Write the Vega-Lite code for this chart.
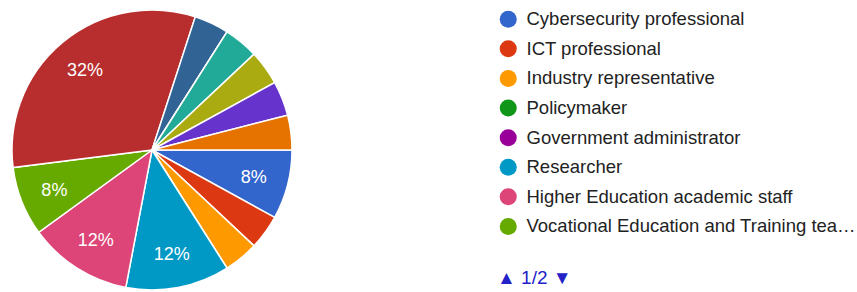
{
  "$schema": "https://vega.github.io/schema/vega-lite/v6.json",
  "width": 304,
  "height": 292,
  "autosize": {"type": "pad"},
  "padding": {"left": 0, "top": 4, "right": 0, "bottom": 0},
  "background": "white",
  "config": {"view": {"stroke": null}, "font": "Liberation Sans"},
  "title": {
    "text": "▲ 1/2 ▼",
    "orient": "bottom",
    "anchor": "start",
    "frame": "group",
    "dx": 497,
    "dy": -27,
    "offset": 0,
    "fontSize": 19,
    "fontWeight": "normal",
    "color": "#2222c8"
  },
  "data": {
    "values": [
      {"idx": 0, "role": "Cybersecurity professional", "n": 2, "label": "8%"},
      {"idx": 1, "role": "ICT professional", "n": 1, "label": ""},
      {"idx": 2, "role": "Industry representative", "n": 1, "label": ""},
      {"idx": 3, "role": "Policymaker", "n": 0, "label": ""},
      {"idx": 4, "role": "Government administrator", "n": 0, "label": ""},
      {"idx": 5, "role": "Researcher", "n": 3, "label": "12%"},
      {"idx": 6, "role": "Higher Education academic staff", "n": 3, "label": "12%"},
      {"idx": 7, "role": "Vocational Education and Training teacher", "n": 2, "label": "8%"},
      {"idx": 8, "role": "Student", "n": 8, "label": "32%"},
      {"idx": 9, "role": "Trainer", "n": 1, "label": ""},
      {"idx": 10, "role": "Consultant", "n": 0, "label": ""},
      {"idx": 11, "role": "Manager", "n": 1, "label": ""},
      {"idx": 12, "role": "Auditor", "n": 1, "label": ""},
      {"idx": 13, "role": "Entrepreneur", "n": 1, "label": ""},
      {"idx": 14, "role": "Other", "n": 1, "label": ""}
    ]
  },
  "encoding": {
    "theta": {"field": "n", "type": "quantitative", "stack": true, "scale": {"range": [1.5708, 7.854]}},
    "order": {"field": "idx", "type": "quantitative"}
  },
  "layer": [
    {
      "mark": {"type": "arc", "outerRadius": 140, "stroke": "white", "strokeWidth": 1.5},
      "encoding": {
        "color": {
          "field": "role",
          "type": "nominal",
          "scale": {
            "domain": ["Cybersecurity professional", "ICT professional", "Industry representative", "Policymaker", "Government administrator", "Researcher", "Higher Education academic staff", "Vocational Education and Training teacher", "Student", "Trainer", "Consultant", "Manager", "Auditor", "Entrepreneur", "Other"],
            "range": ["#3366cc", "#dc3912", "#ff9900", "#109618", "#990099", "#0099c6", "#dd4477", "#66aa00", "#b82e2e", "#316395", "#994499", "#22aa99", "#aaaa11", "#6633cc", "#e67300"]
          },
          "legend": {
            "orient": "none",
            "legendX": 499,
            "legendY": 6,
            "title": null,
            "values": ["Cybersecurity professional", "ICT professional", "Industry representative", "Policymaker", "Government administrator", "Researcher", "Higher Education academic staff", "Vocational Education and Training teacher"],
            "symbolType": "circle",
            "symbolSize": 290,
            "symbolStrokeWidth": 0,
            "labelFontSize": 18.5,
            "labelColor": "#222222",
            "labelLimit": 332,
            "labelOffset": 9,
            "rowPadding": 10.6
          }
        }
      }
    },
    {
      "mark": {"type": "text", "radius": 105, "dy": 2, "fill": "white", "fontSize": 18},
      "encoding": {"text": {"field": "label"}}
    }
  ]
}
